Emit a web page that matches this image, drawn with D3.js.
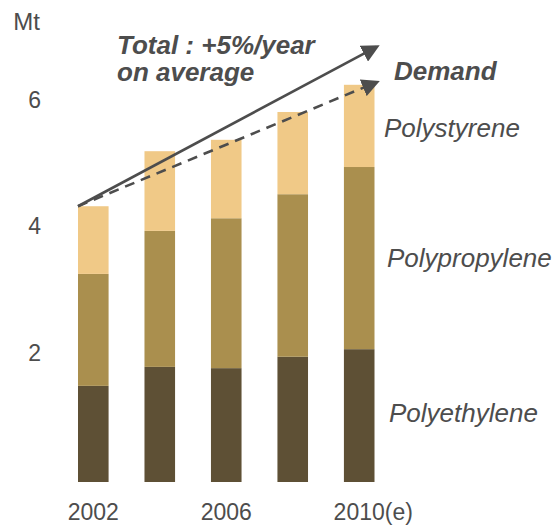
<!DOCTYPE html>
<html>
<head>
<meta charset="utf-8">
<script src="https://cdn.jsdelivr.net/npm/d3@7"></script>
<style>
  body { margin: 0; background: #fff; }
  text { font-family: "Liberation Sans", Arial, sans-serif; fill: #4d4d4d; }
</style>
</head>
<body>
<div id="chart"></div>
<script>
// stacked polymer demand, Mt
var years = ["2002", "2004", "2006", "2008", "2010(e)"];
var yearLabels = ["2002", "", "2006", "", "2010(e)"];
var series = ["Polyethylene", "Polypropylene", "Polystyrene"];
var polyethylene = [1.52, 1.82, 1.80, 1.98, 2.10];
var polypropylene = [1.77, 2.15, 2.37, 2.57, 2.88];
var polystyrene = [1.07, 1.26, 1.24, 1.30, 1.30];
var yTicks = [2, 4, 6];
// trend arrows: start at first total, end values
var totalArrowEnd = 6.88;
var demandArrowEnd = 6.32;

var width = 555, height = 526;
var colors = { "Polyethylene": "#5e5035", "Polypropylene": "#aa8f4e", "Polystyrene": "#f0c987" };

var svg = d3.select("#chart").append("svg")
  .attr("width", width)
  .attr("height", height);

var x = d3.scaleBand()
  .domain(years)
  .range([78, 374.5])
  .paddingInner(0.54)
  .paddingOuter(0);

var y = d3.scaleLinear()
  .domain([0, 6])
  .range([482, 102.5]);

// build rows for stacking
var rows = years.map(function(yr, i) {
  return { year: yr, "Polyethylene": polyethylene[i], "Polypropylene": polypropylene[i], "Polystyrene": polystyrene[i] };
});
var stacked = d3.stack().keys(series)(rows);

svg.append("g").selectAll("g")
  .data(stacked)
  .enter().append("g")
  .attr("fill", function(d) { return colors[d.key]; })
  .selectAll("rect")
  .data(function(d) { return d; })
  .enter().append("rect")
  .attr("x", function(d) { return x(d.data.year); })
  .attr("width", x.bandwidth())
  .attr("y", function(d) { return y(d[1]); })
  .attr("height", function(d) { return y(d[0]) - y(d[1]); });

// y tick labels (no axis line)
svg.append("g").selectAll("text")
  .data(yTicks)
  .enter().append("text")
  .attr("x", 41)
  .attr("y", function(d) { return y(d) + 5; })
  .attr("text-anchor", "end")
  .style("font-size", "23px")
  .text(function(d) { return d; });

svg.append("text")
  .attr("x", 40)
  .attr("y", 30)
  .attr("text-anchor", "end")
  .style("font-size", "24px")
  .text("Mt");

// year labels; "2010(e)" keeps "2010" centred under its bar
var yl = svg.append("g");
years.forEach(function(yr, i) {
  if (!yearLabels[i]) return;
  var cx = x(yr) + x.bandwidth() / 2;
  var t = yl.append("text")
    .attr("y", 520)
    .style("font-size", "23px")
    .text(yearLabels[i]);
  var probe = yl.append("text").style("font-size", "23px").text(yearLabels[i].slice(0, 4));
  var w4 = probe.node().getComputedTextLength();
  probe.remove();
  t.attr("x", cx - w4 / 2);
});

// arrow markers
var defs = svg.append("defs");
defs.append("marker")
  .attr("id", "head")
  .attr("viewBox", "0 0 10 10")
  .attr("refX", 8)
  .attr("refY", 5)
  .attr("markerUnits", "userSpaceOnUse")
  .attr("markerWidth", 18)
  .attr("markerHeight", 18)
  .attr("orient", "auto")
  .append("path")
  .attr("d", "M0,0 L10,5 L0,10 Z")
  .attr("fill", "#4d4d4d");

var x0 = x(years[0]);
var y0 = y(polyethylene[0] + polypropylene[0] + polystyrene[0]);
var x1 = x(years[years.length - 1]) + x.bandwidth() + 2;

svg.append("line")
  .attr("x1", x0).attr("y1", y0)
  .attr("x2", x1).attr("y2", y(totalArrowEnd))
  .attr("stroke", "#4d4d4d")
  .attr("stroke-width", 2.6)
  .attr("marker-end", "url(#head)");

svg.append("line")
  .attr("x1", x0).attr("y1", y0)
  .attr("x2", x1).attr("y2", y(demandArrowEnd))
  .attr("stroke", "#4d4d4d")
  .attr("stroke-width", 2.6)
  .attr("stroke-dasharray", "10,7")
  .attr("marker-end", "url(#head)");

// annotations
svg.append("text")
  .attr("x", 117)
  .attr("y", 54)
  .style("font-size", "26px")
  .style("font-weight", "bold")
  .style("font-style", "italic")
  .text("Total : +5%/year");

svg.append("text")
  .attr("x", 117)
  .attr("y", 81)
  .style("font-size", "26px")
  .style("font-weight", "bold")
  .style("font-style", "italic")
  .text("on average");

svg.append("text")
  .attr("x", 394)
  .attr("y", 80)
  .style("font-size", "26px")
  .style("font-weight", "bold")
  .style("font-style", "italic")
  .text("Demand");

var seriesLabelY = { "Polystyrene": 137, "Polypropylene": 267, "Polyethylene": 422 };
var seriesLabelX = { "Polystyrene": 384, "Polypropylene": 387, "Polyethylene": 389 };
svg.append("g").selectAll("text")
  .data(series)
  .enter().append("text")
  .attr("x", function(d) { return seriesLabelX[d]; })
  .attr("y", function(d) { return seriesLabelY[d]; })
  .style("font-size", "26px")
  .style("font-style", "italic")
  .text(function(d) { return d; });
</script>
</body>
</html>
